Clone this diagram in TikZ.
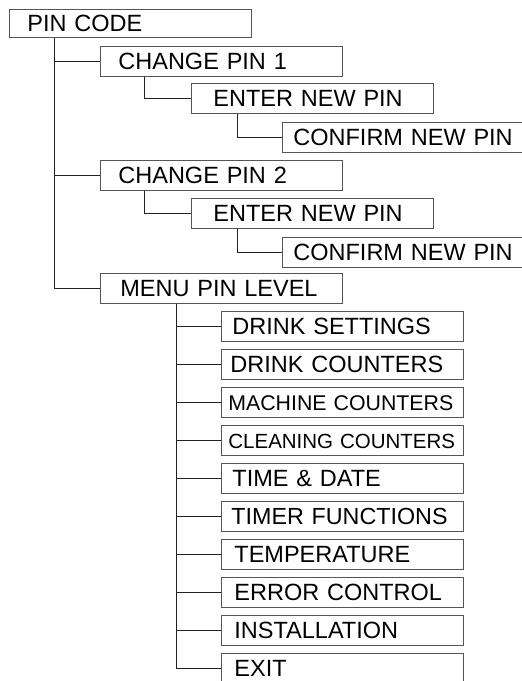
\documentclass[tikz,border=0pt]{standalone}
\usepackage{fontspec}
\setmainfont{Liberation Sans}
\usepackage{xcolor}
\usepackage{tikz}
\usetikzlibrary{positioning}
\definecolor{frame}{HTML}{555555}
\definecolor{ink}{HTML}{222222}
\newcommand{\pinbox}[7][]{%
  \pgfmathsetmacro{\tw}{#5-2*#6}%
  \node[menubox,minimum width=#5pt,text width=\tw pt,#1] (#2) at (#3,#4) {\mbox{#7}};}
\tikzset{
  menubox/.style={draw=frame,line width=0.8pt,anchor=north west,minimum height=30pt,
    inner xsep=0pt,inner ysep=0pt,align=left,text height=16.8pt,text depth=0pt,
    font=\fontsize{23.5}{27}\selectfont},
  wire/.style={draw=ink,line width=0.8pt}
}

\begin{document}
\begin{tikzpicture}[x=1pt,y=-1pt]
  \useasboundingbox (0,0) rectangle (522,681);
  \clip (0,0) rectangle (522,681);
  % top levels
  \pinbox[minimum height=28pt]{pin}{9}{9}{242}{18}{PIN CODE}
  \pinbox{cp1}{100}{46}{242}{18}{CHANGE PIN 1}
  \pinbox{en1}{191}{83}{242}{22}{ENTER NEW PIN}
  \pinbox{cf1}{282}{122}{245}{11}{CONFIRM NEW PIN}
  \pinbox{cp2}{100}{160}{242}{18}{CHANGE PIN 2}
  \pinbox{en2}{191}{198}{242}{22}{ENTER NEW PIN}
  \pinbox{cf2}{282}{237}{245}{11}{CONFIRM NEW PIN}
  \pinbox{menu}{100}{273}{242}{20}{MENU PIN LEVEL}
  \draw[wire] ([xshift=45pt]pin.south west) |- (menu.west);
  \draw[wire] ([xshift=45pt]pin.south west) |- (cp1.west);
  \draw[wire] ([xshift=45pt]pin.south west) |- (cp2.west);
  \draw[wire] ([xshift=44pt]cp1.south west) |- (en1.west);
  \draw[wire] ([xshift=46pt]en1.south west) |- (cf1.west);
  \draw[wire] ([xshift=44pt]cp2.south west) |- (en2.west);
  \draw[wire] ([xshift=46pt]en2.south west) |- (cf2.west);
  % menu pin level items
  \foreach \lbl/\pad/\fs [count=\i from 0] in {DRINK SETTINGS/11/23.5,DRINK COUNTERS/9/23.5,
      MACHINE COUNTERS/7/21.3,CLEANING COUNTERS/7/20.5,TIME \& DATE/11/23.5,TIMER FUNCTIONS/10/23.3,
      TEMPERATURE/13/23.5,ERROR CONTROL/13/23.5,INSTALLATION/13/23.5,EXIT/13/23.5}{
    \pgfmathsetmacro{\ytop}{311+38*\i}
    \pinbox[font=\fontsize{\fs}{\fs}\selectfont]{m\i}{221}{\ytop}{242}{\pad}{\lbl}
    \draw[wire] ([xshift=76pt]menu.south west) |- (m\i.west);}
\end{tikzpicture}
\end{document}
